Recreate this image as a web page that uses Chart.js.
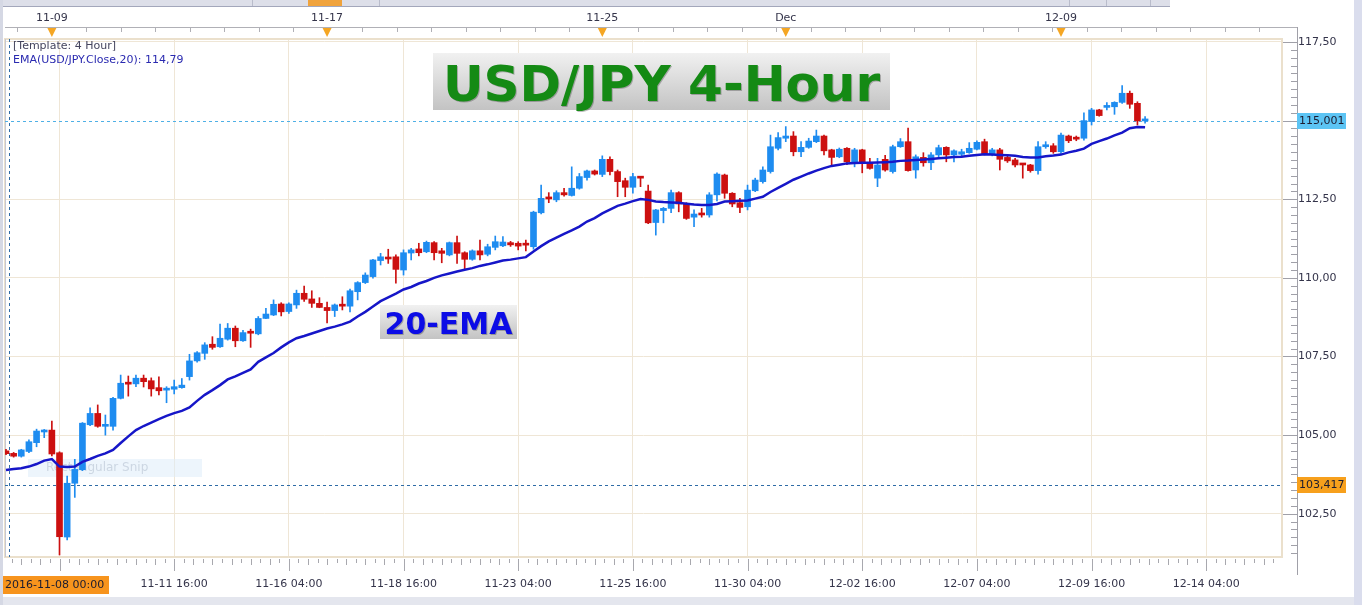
<!DOCTYPE html>
<html>
<head>
<meta charset="utf-8">
<title>USD/JPY 4-Hour</title>
<script src="https://cdn.jsdelivr.net/npm/chart.js@4.4.0/dist/chart.umd.min.js"></script>
<style>
html,body{margin:0;padding:0;background:#fff;overflow:hidden}
canvas{display:block}
</style>
</head>
<body>
<canvas id="chart" width="1362" height="605"></canvas>
<script>
/* ========= DATA (4h bars from 2016-11-08 00:00) ========= */

const opens=[
 104.50,104.42,104.33,104.48,104.76,105.10,105.16,104.44,101.76,103.47,
 103.90,105.33,105.69,105.28,105.28,106.17,106.68,106.63,106.81,106.73,
 106.51,106.43,106.46,106.51,106.86,107.36,107.60,107.89,107.81,108.05,
 108.40,108.00,108.28,108.22,108.71,108.82,109.17,108.93,109.14,109.51,
 109.33,109.19,109.06,108.96,109.13,109.10,109.56,109.85,110.04,110.55,
 110.63,110.67,110.25,110.79,110.92,110.83,111.12,110.86,110.73,111.12,
 110.80,110.59,110.86,110.75,110.97,111.02,111.12,111.10,111.07,110.99,
 112.07,112.55,112.48,112.71,112.62,112.85,113.19,113.40,113.29,113.77,
 113.38,113.09,112.88,113.20,112.76,111.76,112.14,112.21,112.71,112.35,
 111.93,112.05,112.00,112.64,113.27,112.69,112.39,112.26,112.77,113.06,
 113.38,114.12,114.44,114.51,114.01,114.15,114.33,114.51,114.07,113.85,
 114.12,113.69,114.07,113.64,113.17,113.77,113.38,114.17,114.33,113.43,
 113.83,113.66,113.91,114.15,113.91,113.93,113.98,114.09,114.33,113.94,
 114.07,113.83,113.75,113.62,113.59,113.41,114.17,114.20,114.01,114.51,
 114.44,114.44,114.97,115.34,115.42,115.44,115.58,115.87,115.55,114.99
]
const highs=[
 104.55,104.45,104.55,104.85,105.19,105.18,105.45,104.47,103.70,104.23,
 105.40,105.87,105.96,105.64,106.20,106.91,106.88,106.91,106.91,106.82,
 106.85,106.54,106.75,106.80,107.57,107.66,107.94,108.13,108.53,108.55,
 108.47,108.33,108.37,108.77,109.03,109.30,109.21,109.21,109.61,109.74,
 109.59,109.37,109.23,109.17,109.40,109.64,109.88,110.16,110.59,110.78,
 110.91,110.73,110.89,110.94,111.10,111.17,111.15,110.94,111.14,111.33,
 110.83,110.89,111.20,111.07,111.33,111.31,111.16,111.15,111.20,112.12,
 112.95,112.71,112.77,112.85,113.53,113.32,113.43,113.43,113.88,113.85,
 113.43,113.17,113.32,113.22,112.95,112.18,112.24,112.79,112.74,112.39,
 112.16,112.21,112.71,113.34,113.30,112.71,112.53,112.95,113.17,113.53,
 114.54,114.62,114.81,114.65,114.33,114.44,114.70,114.54,114.09,114.13,
 114.14,114.12,114.09,113.80,113.80,113.90,114.22,114.43,114.76,113.91,
 113.98,113.98,114.22,114.17,114.07,114.09,114.30,114.36,114.41,114.12,
 114.12,113.91,113.80,113.64,113.61,114.33,114.33,114.27,114.60,114.54,
 114.51,115.25,115.39,115.36,115.57,115.60,116.11,115.94,115.60,115.13
]
const lows=[
 104.38,104.30,104.30,104.44,104.63,104.92,104.34,101.19,101.67,103.02,
 103.87,105.30,105.25,105.00,105.16,106.15,106.24,106.54,106.53,106.24,
 106.28,106.03,106.31,106.49,106.75,107.32,107.41,107.73,107.79,108.02,
 107.81,107.98,107.79,108.19,108.70,108.80,108.79,108.87,109.03,109.25,
 109.06,109.05,108.57,108.77,108.98,108.92,109.30,109.82,109.99,110.41,
 110.46,109.83,110.09,110.57,110.70,110.80,110.57,110.48,110.70,110.46,
 110.27,110.56,110.57,110.70,110.89,110.99,111.00,110.89,110.86,110.91,
 112.03,112.39,112.42,112.60,112.60,112.82,113.11,113.27,113.22,113.27,
 112.58,112.58,112.69,112.90,111.72,111.36,111.75,112.07,112.10,111.86,
 111.63,111.93,111.93,112.45,112.53,112.26,112.07,112.16,112.74,113.01,
 113.33,114.07,114.33,113.88,113.85,114.12,114.30,113.91,113.59,113.82,
 113.60,113.53,113.34,113.46,112.90,113.39,113.33,114.15,113.39,113.17,
 113.55,113.44,113.82,113.69,113.69,113.85,113.96,114.07,113.91,113.88,
 113.43,113.67,113.53,113.17,113.36,113.30,114.12,113.96,113.96,114.30,
 114.36,114.38,114.86,115.14,115.34,115.20,115.55,115.39,114.86,114.92
]
const closes=[
 104.41,104.33,104.53,104.79,105.13,105.16,104.40,101.77,103.47,103.91,
 105.38,105.69,105.28,105.30,106.17,106.65,106.62,106.81,106.70,106.47,
 106.41,106.49,106.54,106.59,107.36,107.62,107.87,107.79,108.08,108.40,
 108.00,108.26,108.24,108.71,108.85,109.16,108.92,109.17,109.51,109.32,
 109.19,109.06,108.96,109.14,109.10,109.59,109.85,110.09,110.57,110.67,
 110.60,110.27,110.80,110.89,110.80,111.13,110.80,110.78,111.12,110.78,
 110.59,110.86,110.73,110.99,111.15,111.14,111.05,111.01,111.04,112.09,
 112.53,112.51,112.71,112.64,112.85,113.22,113.40,113.30,113.77,113.38,
 113.06,112.88,113.22,113.17,111.75,112.16,112.21,112.71,112.35,111.89,
 112.03,112.00,112.64,113.30,112.69,112.35,112.24,112.79,113.11,113.43,
 114.17,114.46,114.51,114.01,114.15,114.35,114.51,114.04,113.83,114.09,
 113.69,114.07,113.64,113.48,113.59,113.43,114.17,114.33,113.41,113.85,
 113.66,113.91,114.14,113.91,114.04,114.01,114.12,114.31,113.94,114.07,
 113.77,113.72,113.59,113.59,113.41,114.17,114.22,114.01,114.54,114.36,
 114.41,115.00,115.34,115.16,115.45,115.58,115.87,115.52,114.99,115.00
]
const ema20=[
 103.89,103.92,103.95,104.00,104.08,104.19,104.24,104.00,103.99,104.00,
 104.15,104.24,104.34,104.42,104.53,104.75,104.96,105.16,105.29,105.40,
 105.51,105.61,105.70,105.77,105.88,106.09,106.28,106.43,106.59,106.77,
 106.87,106.98,107.09,107.33,107.47,107.61,107.79,107.95,108.08,108.15,
 108.23,108.31,108.39,108.45,108.52,108.61,108.77,108.92,109.09,109.26,
 109.38,109.50,109.63,109.71,109.82,109.90,110.00,110.08,110.14,110.20,
 110.26,110.31,110.38,110.43,110.49,110.55,110.58,110.62,110.66,110.84,
 111.01,111.16,111.28,111.40,111.51,111.63,111.79,111.90,112.05,112.17,
 112.29,112.36,112.44,112.51,112.48,112.43,112.41,112.40,112.39,112.36,
 112.33,112.32,112.32,112.35,112.43,112.44,112.45,112.46,112.52,112.58,
 112.73,112.86,112.99,113.12,113.22,113.32,113.41,113.49,113.56,113.60,
 113.64,113.65,113.66,113.66,113.67,113.68,113.69,113.72,113.73,113.75,
 113.76,113.78,113.80,113.82,113.84,113.85,113.88,113.91,113.93,113.92,
 113.91,113.90,113.88,113.84,113.83,113.83,113.87,113.89,113.92,113.99,
 114.04,114.11,114.26,114.35,114.43,114.53,114.62,114.76,114.80,114.79
]

const bottomTickIdx=[7,22,37,52,67,82,97,112,127,142,157]
const bottomTickLabels=["","11-11 16:00","11-16 04:00","11-18 16:00","11-23 04:00","11-25 16:00","11-30 04:00","12-02 16:00","12-07 04:00","12-09 16:00","12-14 04:00"]
const topTickIdx=[6,42,78,102,138]
const topTickLabels=["11-09","11-17","11-25","Dec","12-09"]
const yTicks=[102.5,105,107.5,110,112.5,115,117.5]

const lastPrice=115.001
const crossPrice=103.417
const crossIdx=0.4
const crossLabel="2016-11-08 00:00"

/* ========= LOOK ========= */

const UP="#1e8cf0", DN="#cc1010", FONT="'DejaVu Sans', sans-serif", GRID="#efe6d6"
const xMin=-0.13, xMax=166.91
const bars=opens.map((_,i)=>i)
const colors=bars.map(i=>closes[i]>=opens[i]?UP:DN)
const fmt=v=>v.toFixed(2).replace(".",",")

Chart.defaults.font.family=FONT
Chart.defaults.font.size=11
Chart.defaults.color="#34344a"

/* ========= DECORATION ========= */

function hline(g,a,py,col){
 g.strokeStyle=col
 g.beginPath();g.moveTo(a.left,Math.round(py)+.5);g.lineTo(a.right,Math.round(py)+.5);g.stroke()
}

function priceBox(g,py,txt,bg){
 g.fillStyle=bg;g.fillRect(1297,Math.round(py)-8,49,16)
 g.fillStyle="#1c1c30";g.font="11px "+FONT;g.textBaseline="middle";g.textAlign="left"
 g.fillText(txt,1299,Math.round(py)+.5)
}

function labelBox(g,x0,y0,w,h,txt,size,col){
 const gr=g.createLinearGradient(0,y0,0,y0+h)
 gr.addColorStop(0,"#f1f1f1");gr.addColorStop(1,"#c3c3c3")
 g.fillStyle=gr;g.fillRect(x0,y0,w,h)
 g.font="bold "+size+"px "+FONT;g.textAlign="center";g.textBaseline="alphabetic"
 g.fillStyle="rgba(0,0,0,0.25)";g.fillText(txt,x0+w/2+1,y0+h*0.84+1)
 g.fillStyle=col;g.fillText(txt,x0+w/2,y0+h*0.84)
}

const deco={
 id:"deco",
 beforeDraw(c){
  const g=c.ctx,W=c.width,H=c.height
  g.save()
  g.fillStyle="#fff";g.fillRect(0,0,W,H)
  // scroll strip on top
  g.fillStyle="#dddfe9";g.fillRect(0,0,1170,6)
  g.fillStyle="#a3a7bb";g.fillRect(0,6,1170,1)
  g.fillStyle="#b9bccb";[252,379,1069,1106,1150].forEach(px=>g.fillRect(px,0,1,6))
  g.fillStyle="#f0a33c";g.fillRect(308,0,34,6)
  // window edges
  g.fillStyle="#e4e6ee";g.fillRect(0,597,W,H-597)
  g.fillStyle="#dadded";g.fillRect(W-8,0,8,H)
  g.fillStyle="#d5d8e4";g.fillRect(0,0,3,H)
  g.restore()
 },
 beforeDatasetsDraw(c){
  const g=c.ctx,a=c.chartArea,x=c.scales.x,y=c.scales.y
  g.save()
  // faint snipping tool overlay
  g.fillStyle="rgba(222,236,250,0.55)";g.fillRect(28,459,174,18)
  g.fillStyle="rgba(165,178,196,0.45)";g.font="12px "+FONT;g.textBaseline="middle";g.textAlign="left"
  g.fillText("Rectangular Snip",46,468)
  // frame
  g.strokeStyle="#ebe0cc";g.lineWidth=2
  g.strokeRect(a.left,a.top,a.right-a.left,a.bottom-a.top)
  g.fillStyle="#c5c8d4";g.fillRect(a.left,a.top,1,a.bottom-a.top)
  // dashed markers
  g.lineWidth=1;g.setLineDash([3,3])
  hline(g,a,y.getPixelForValue(lastPrice),"#4fb0e6")
  hline(g,a,y.getPixelForValue(crossPrice),"#2f6ca6")
  const cx=Math.round(x.getPixelForValue(crossIdx))+.5
  g.strokeStyle="#2f6ca6";g.beginPath();g.moveTo(cx,a.top);g.lineTo(cx,a.bottom);g.stroke()
  g.restore()
 },
 afterDraw(c){
  const g=c.ctx,a=c.chartArea,x=c.scales.x,y=c.scales.y
  g.save()
  // top date axis
  g.fillStyle="#b0b0b6";g.fillRect(a.left,27,1297-a.left,1)
  const p0=x.getPixelForValue(topTickIdx[0])
  for(let k=-2;k<40;k++){
   const px=Math.round(p0+34.5*k)
   if(px>a.left&&px<a.right) g.fillRect(px,28,1,4)
  }
  g.fillStyle="#f5a623"
  topTickIdx.forEach(v=>{
   const px=x.getPixelForValue(v)
   g.beginPath();g.moveTo(px-4.5,28);g.lineTo(px+4.5,28);g.lineTo(px,37);g.closePath();g.fill()
  })
  // bottom time axis ticks
  g.fillStyle="#a8a8ae"
  for(let j=-6;j<150;j++){
   const px=Math.round(x.getPixelForValue(bottomTickIdx[0]+j*1.25))
   if(px<a.left||px>a.right) continue
   const len=j%12===0?12:(j%2===0?6:4)
   g.fillRect(px,a.bottom+2,1,len)
  }
  // price axis
  g.fillStyle="#a0a0a8";g.fillRect(1297,27,1,548)
  for(let v=101.25;v<=117.6;v+=0.25){
   const py=Math.round(y.getPixelForValue(v))
   const major=Math.abs(v/2.5-Math.round(v/2.5))<1e-6
   if(major) g.fillRect(1283,py,14,1); else g.fillRect(1291,py,6,1)
  }
  priceBox(g,y.getPixelForValue(lastPrice),lastPrice.toFixed(3).replace(".",","),"#5cc4f4")
  priceBox(g,y.getPixelForValue(crossPrice),crossPrice.toFixed(3).replace(".",","),"#f7a01c")
  // crosshair date
  g.fillStyle="#f7941d";g.fillRect(3,576,106,18)
  g.fillStyle="#1c1c30";g.font="11px "+FONT;g.textAlign="left";g.textBaseline="middle"
  g.fillText(crossLabel,5,585.5)
  // study legend
  g.fillStyle="#45455e";g.fillText("[Template: 4 Hour]",13,46)
  g.fillStyle="#2a2ab0";g.fillText("EMA(USD/JPY.Close,20): "+fmt(ema20[ema20.length-1]),13,60)
  // annotations
  labelBox(g,433,53,457,57,"USD/JPY 4-Hour",50,"#148a14")
  labelBox(g,380,305,137,34,"20-EMA",30,"#0c0ce6")
  g.restore()
 }
}

/* ========= CHART ========= */

const chartCanvas=document.getElementById("chart")
new Chart(chartCanvas,{
 type:"bar",
 data:{datasets:[
  {type:"bar",label:"wick",data:bars.map(i=>({x:i,y:[lows[i],highs[i]]})),
   backgroundColor:colors,barThickness:1,grouped:false,order:3},
  {type:"bar",label:"body",data:bars.map(i=>({x:i,y:[opens[i],closes[i]]})),
   backgroundColor:colors,barThickness:6,minBarLength:2,grouped:false,order:2},
  {type:"line",label:"EMA(20)",data:bars.map(i=>({x:i,y:ema20[i]})),
   borderColor:"#1616c8",borderWidth:2.5,pointRadius:0,tension:0,order:1}
 ]},
 options:{
  responsive:false,animation:false,devicePixelRatio:1,events:[],
  layout:{padding:{left:5,top:0,right:0,bottom:0}},
  plugins:{legend:{display:false},tooltip:{enabled:false}},
  scales:{
   x:{type:"linear",position:"bottom",min:xMin,max:xMax,offset:false,
    afterBuildTicks:s=>{s.ticks=bottomTickIdx.map(v=>({value:v}))},
    afterFit:s=>{s.height=48},
    ticks:{autoSkip:false,maxRotation:0,padding:21,callback:(v,i)=>bottomTickLabels[i]},
    grid:{color:GRID,drawTicks:false,offset:false},
    border:{display:false}},
   x2:{type:"linear",position:"top",min:xMin,max:xMax,offset:false,
    afterBuildTicks:s=>{s.ticks=topTickIdx.map(v=>({value:v}))},
    afterFit:s=>{s.height=39},
    ticks:{autoSkip:false,maxRotation:0,padding:14,callback:(v,i)=>topTickLabels[i]},
    grid:{display:false,drawTicks:false},
    border:{display:false}},
   y:{type:"linear",position:"right",min:101.125,max:117.595,
    afterBuildTicks:s=>{s.ticks=yTicks.map(v=>({value:v}))},
    afterFit:s=>{s.width=80},
    ticks:{autoSkip:false,padding:16,callback:v=>fmt(v)},
    grid:{color:c=>c.tick&&Math.abs(c.tick.value-lastPrice)<0.01?"rgba(0,0,0,0)":GRID,drawTicks:false},
    border:{display:false}}
  }
 },
 plugins:[deco]
})
</script>
</body>
</html>
